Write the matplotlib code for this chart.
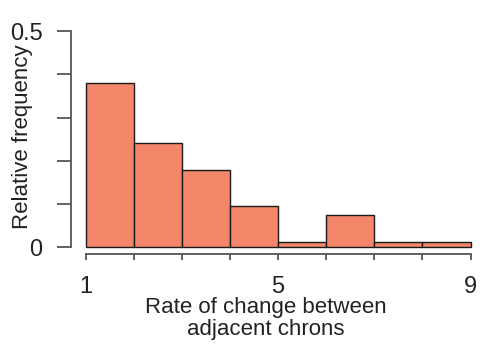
import matplotlib.pyplot as plt

plt.rcParams["font.family"] = ["Liberation Sans", "DejaVu Sans"]

bin_edges = [1, 2, 3, 4, 5, 6, 7, 8, 9]
rel_freq = [0.379, 0.242, 0.178, 0.095, 0.012, 0.074, 0.012, 0.012]
y_ticks = [0, 0.1, 0.2, 0.3, 0.4, 0.5]
y_ticklabels = ["0", "", "", "", "", "0.5"]
x_ticks = [1, 2, 3, 4, 5, 6, 7, 8, 9]
x_ticklabels = ["1", "", "", "", "5", "", "", "", "9"]

W, H = 492, 351
fig = plt.figure(figsize=(W / 100, H / 100), dpi=100)
left, right, top, bottom = 71, 480, 31, 254.3
ax = fig.add_axes([left / W, 1 - bottom / H, (right - left) / W, (bottom - top) / H])

lefts = bin_edges[:-1]
widths = [b - a for a, b in zip(bin_edges[:-1], bin_edges[1:])]
ax.bar(lefts, rel_freq, width=widths, align="edge", color="#f4866a",
       edgecolor="#1a1a1a", linewidth=1.0)

ax.set_xlim(0.694, 9.197)
ax.set_ylim(-0.0162, 0.5)

axis_col = "#555555"
for side in ("top", "right"):
    ax.spines[side].set_visible(False)
ax.spines["left"].set_bounds(0, 0.5)
ax.spines["bottom"].set_bounds(1, 9)
for side in ("left", "bottom"):
    ax.spines[side].set_color(axis_col)
    ax.spines[side].set_linewidth(1.3)

ax.set_yticks(y_ticks)
ax.set_yticklabels(y_ticklabels)
ax.set_xticks(x_ticks)
ax.set_xticklabels(x_ticklabels)
ax.tick_params(axis="y", length=10, width=1.3, color=axis_col, pad=10.5,
               labelsize=17, labelcolor="#222222")
ax.tick_params(axis="x", length=4.6, width=1.3, color=axis_col, pad=11,
               labelsize=17, labelcolor="#222222")

ax.set_xlabel("Rate of change between\nadjacent chrons", fontsize=16,
              color="#222222", linespacing=1.05)
ax.xaxis.set_label_coords(0.4756, -0.19)
ax.set_ylabel("Relative frequency", fontsize=16, color="#222222")
ax.yaxis.set_label_coords(-0.094, 0.525)

fig.savefig("out.png", dpi=100)
